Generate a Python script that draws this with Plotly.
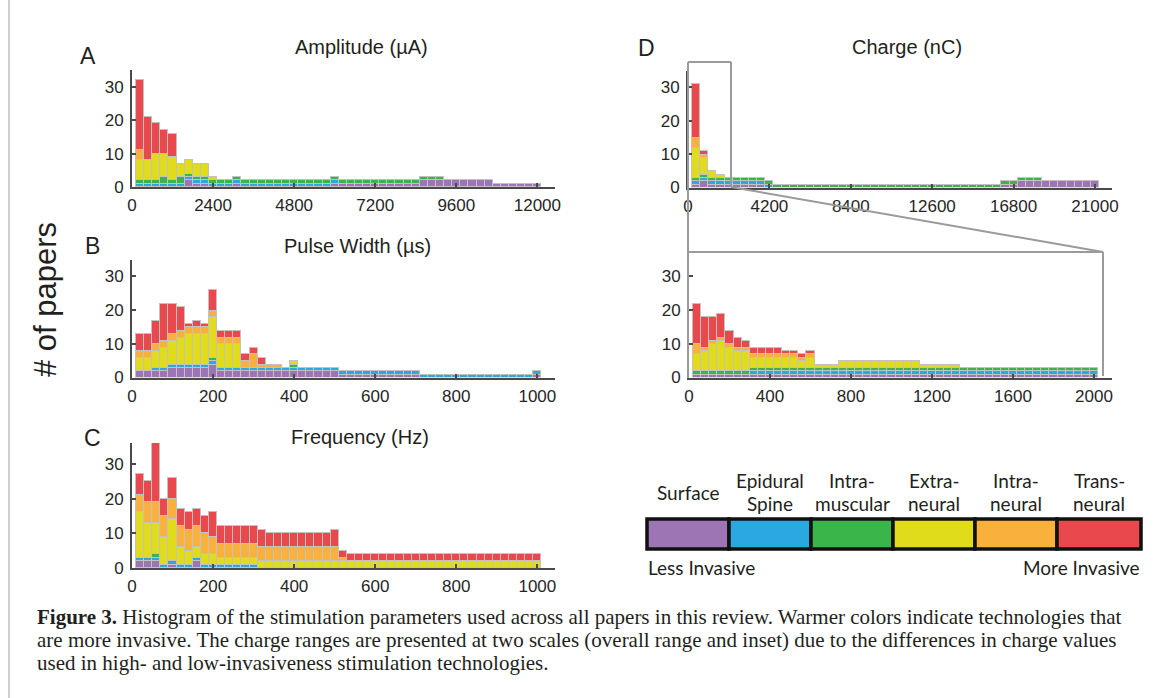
import plotly.graph_objects as go

# ---------------- data (counts of papers per bin, stacked by technology) ----------------
CATEGORIES = ["Surface", "Epidural Spine", "Intramuscular", "Extraneural", "Intraneural", "Transneural"]
COLORS = ["#9D74B4", "#2AA9E1", "#3AB54A", "#E1DC1B", "#FAB03C", "#E9484C"]

# Amplitude (uA), bin width 240
AMP_BIN = 240
AMP_SURFACE = [0,0,0,0,0,0,2,1,1,0, 0,0,1,0,0,0,0,0,0,0, 0,0,0,0,1,1,1,1,1,1, 1,1,1,1,1,2,2,2,2,2, 2,2,2,2,1,1,1,1,1,1]
AMP_EPIDURAL = [1,1,1,1,1,1,1,1,1,1, 1,1,1,1,1,1,1,1,1,1, 1,1,1,1,1,0,0,0,0,0, 0,0,0,0,0,0,0,0,0,0, 0,0,0,0,0,0,0,0,0,0]
AMP_INTRAMUSC = [1,1,1,2,1,2,1,1,1,1, 1,1,1,1,1,1,1,1,1,1, 1,1,1,1,1,1,1,1,1,1, 1,1,1,1,1,1,1,1,0,0, 0,0,0,0,0,0,0,0,0,0]
AMP_EXTRANEURAL = [6,6,8,7,7,4,4,4,4,1, 0,0,0,0,0,0,0,0,0,0, 0,0,0,0,0,0,0,0,0,0, 0,0,0,0,0,0,0,0,0,0, 0,0,0,0,0,0,0,0,0,0]
AMP_INTRANEURAL = [3,0,0,0,0,0,0,0,0,0, 0,0,0,0,0,0,0,0,0,0, 0,0,0,0,0,0,0,0,0,0, 0,0,0,0,0,0,0,0,0,0, 0,0,0,0,0,0,0,0,0,0]
AMP_TRANSNEURAL = [21,13,9,7,7,0,0,0,0,0, 0,0,0,0,0,0,0,0,0,0, 0,0,0,0,0,0,0,0,0,0, 0,0,0,0,0,0,0,0,0,0, 0,0,0,0,0,0,0,0,0,0]
AMP_TICKS = [0, 2400, 4800, 7200, 9600, 12000]

# Pulse width (us), bin width 20
PW_BIN = 20
PW_SURFACE = [2,2,2,2,3,3,3,3,3,4, 2,2,2,2,2,2,2,2,2,2, 2,2,2,2,2,1,1,1,1,1, 1,1,1,1,1,0,0,0,0,0, 0,0,0,0,0,0,0,0,0,1]
PW_EPIDURAL = [0,0,1,1,1,1,1,1,1,1, 1,1,1,1,1,1,1,1,1,1, 1,1,1,1,1,1,1,1,1,1, 1,1,1,1,1,1,1,1,1,1, 1,1,1,1,1,1,1,1,1,1]
PW_INTRAMUSC = [0,0,0,0,0,0,0,0,0,1, 0,0,0,0,0,0,0,0,0,1, 0,0,0,0,0,0,0,0,0,0, 0,0,0,0,0,0,0,0,0,0, 0,0,0,0,0,0,0,0,0,0]
PW_EXTRANEURAL = [4,4,5,6,7,8,9,9,9,12, 7,7,7,0,0,0,0,0,0,1, 0,0,0,0,0,0,0,0,0,0, 0,0,0,0,0,0,0,0,0,0, 0,0,0,0,0,0,0,0,0,0]
PW_INTRANEURAL = [2,2,2,2,2,2,2,2,2,2, 2,2,2,2,4,1,1,1,0,0, 0,0,0,0,0,0,0,0,0,0, 0,0,0,0,0,0,0,0,0,0, 0,0,0,0,0,0,0,0,0,0]
PW_TRANSNEURAL = [5,5,7,11,9,7,1,2,1,6, 2,2,2,2,2,2,0,0,0,0, 0,0,0,0,0,0,0,0,0,0, 0,0,0,0,0,0,0,0,0,0, 0,0,0,0,0,0,0,0,0,0]
PW_TICKS = [0, 200, 400, 600, 800, 1000]

# Frequency (Hz), bin width 20
FREQ_BIN = 20
FREQ_SURFACE = [2,2,2,0,1,0,0,2,0,0, 0,0,0,0,0,0,0,0,0,0, 0,0,0,0,0,0,0,0,0,0, 0,0,0,0,0,0,0,0,0,0, 0,0,0,0,0,0,0,0,0,0]
FREQ_EPIDURAL = [1,1,1,1,1,1,1,1,1,1, 1,1,1,1,1,0,0,0,0,0, 0,0,0,0,0,0,0,0,0,0, 0,0,0,0,0,0,0,0,0,0, 0,0,0,0,0,0,0,0,0,0]
FREQ_INTRAMUSC = [0,0,1,0,0,0,0,0,0,0, 0,0,0,0,0,0,0,0,0,0, 0,0,0,0,0,0,0,0,0,0, 0,0,0,0,0,0,0,0,0,0, 0,0,0,0,0,0,0,0,0,0]
FREQ_EXTRANEURAL = [13,10,9,8,12,5,4,3,3,3, 2,2,2,2,2,2,2,2,2,2, 2,2,2,2,2,2,2,2,2,2, 2,2,2,2,2,2,2,2,2,2, 2,2,2,2,2,2,2,2,2,2]
FREQ_INTRANEURAL = [5,6,6,6,6,6,6,6,6,5, 4,4,4,4,4,4,4,4,4,4, 4,4,4,4,4,1,0,0,0,0, 0,0,0,0,0,0,0,0,0,0, 0,0,0,0,0,0,0,0,0,0]
FREQ_TRANSNEURAL = [6,6,17,5,6,5,5,5,5,7, 5,5,5,5,5,5,4,4,4,4, 4,4,4,4,5,2,2,2,2,2, 2,2,2,2,2,2,2,2,2,2, 2,2,2,2,2,2,2,2,2,2]
FREQ_TICKS = [0, 200, 400, 600, 800, 1000]

# Charge (nC), overall range, bin width 420
CHG_BIN = 420
CHG_SURFACE = [1,2,1,1,1,1,1,1,1,0, 0,0,0,0,0,0,0,0,0,0, 0,0,0,0,0,0,0,0,0,0, 0,0,0,0,0,0,0,0,1,1, 2,2,2,2,2,2,2,2,2,2]
CHG_EPIDURAL = [1,1,1,1,1,1,1,1,1,1, 0,0,0,0,0,0,0,0,0,0, 0,0,0,0,0,0,0,0,0,0, 0,0,0,0,0,0,0,0,0,0, 0,0,0,0,0,0,0,0,0,0]
CHG_INTRAMUSC = [1,1,1,1,1,1,1,1,1,1, 1,1,1,1,1,1,1,1,1,1, 1,1,1,1,1,1,1,1,1,1, 1,1,1,1,1,1,1,1,1,1, 1,1,1,0,0,0,0,0,0,0]
CHG_EXTRANEURAL = [9,5,2,1,0,0,0,0,0,0, 0,0,0,0,0,0,0,0,0,0, 0,0,0,0,0,0,0,0,0,0, 0,0,0,0,0,0,0,0,0,0, 0,0,0,0,0,0,0,0,0,0]
CHG_INTRANEURAL = [3,1,0,0,0,0,0,0,0,0, 0,0,0,0,0,0,0,0,0,0, 0,0,0,0,0,0,0,0,0,0, 0,0,0,0,0,0,0,0,0,0, 0,0,0,0,0,0,0,0,0,0]
CHG_TRANSNEURAL = [16,1,0,0,0,0,0,0,0,0, 0,0,0,0,0,0,0,0,0,0, 0,0,0,0,0,0,0,0,0,0, 0,0,0,0,0,0,0,0,0,0, 0,0,0,0,0,0,0,0,0,0]
CHG_TICKS = [0, 4200, 8400, 12600, 16800, 21000]

# Charge (nC), inset 0-2000, bin width 40
INS_BIN = 40
INS_SURFACE = [1,1,1,1,1,1,1,1,1,1, 1,1,1,1,1,1,1,1,1,1, 1,1,1,1,1,1,1,1,1,1, 1,1,1,1,1,1,1,1,1,1, 1,1,1,1,1,1,1,1,1,1]
INS_EPIDURAL = [0,0,0,0,0,0,0,1,1,1, 1,1,1,1,1,1,1,1,1,1, 1,1,1,1,1,1,1,1,1,1, 1,1,1,1,1,1,1,1,1,1, 1,1,1,1,1,1,1,1,1,1]
INS_INTRAMUSC = [1,1,1,1,1,1,1,1,1,1, 1,1,1,1,1,1,1,1,1,1, 1,1,1,1,1,1,1,1,1,1, 1,1,1,1,1,1,1,1,1,1, 1,1,1,1,1,1,1,1,1,1]
INS_EXTRANEURAL = [5,6,8,9,7,6,6,3,3,3, 3,3,3,2,3,1,1,1,2,2, 2,2,2,2,2,2,2,2,1,1, 1,1,1,0,0,0,0,0,0,0, 0,0,0,0,0,0,0,0,0,0]
INS_INTRANEURAL = [3,1,1,1,1,1,1,1,1,1, 1,1,1,1,1,0,0,0,0,0, 0,0,0,0,0,0,0,0,0,0, 0,0,0,0,0,0,0,0,0,0, 0,0,0,0,0,0,0,0,0,0]
INS_TRANSNEURAL = [12,9,7,7,4,3,2,2,2,2, 2,1,1,1,1,0,0,0,0,0, 0,0,0,0,0,0,0,0,0,0, 0,0,0,0,0,0,0,0,0,0, 0,0,0,0,0,0,0,0,0,0]
INS_TICKS = [0, 400, 800, 1200, 1600, 2000]

Y_TICKS = [0, 10, 20, 30]

# ---------------- layout helpers (positions given in pixels of the 1153x698 reference) ----------------
W, H = 1153, 698
def px(x):
    return x / W
def py(y):
    return 1 - y / H

AX_COLOR = "#4A4A4A"
TXT = "#231F20"
SANS = "Liberation Sans, Arial, sans-serif"

panels = [
    # (axis suffix, bin, series, ticks, x domain px, y domain px (bottom, top), xmax, ymax)
    ("", AMP_BIN, [AMP_SURFACE, AMP_EPIDURAL, AMP_INTRAMUSC, AMP_EXTRANEURAL, AMP_INTRANEURAL, AMP_TRANSNEURAL],
     AMP_TICKS, (132, 555), (187, 70), 12000 * 1.0435, 35),
    ("2", PW_BIN, [PW_SURFACE, PW_EPIDURAL, PW_INTRAMUSC, PW_EXTRANEURAL, PW_INTRANEURAL, PW_TRANSNEURAL],
     PW_TICKS, (132, 555), (377.5, 259.5), 1000 * 1.0435, 35),
    ("3", FREQ_BIN, [FREQ_SURFACE, FREQ_EPIDURAL, FREQ_INTRAMUSC, FREQ_EXTRANEURAL, FREQ_INTRANEURAL, FREQ_TRANSNEURAL],
     FREQ_TICKS, (132, 555), (568, 443), 1000 * 1.0435, 36),
    ("4", CHG_BIN, [CHG_SURFACE, CHG_EPIDURAL, CHG_INTRAMUSC, CHG_EXTRANEURAL, CHG_INTRANEURAL, CHG_TRANSNEURAL],
     CHG_TICKS, (688, 1112), (187.5, 70.5), 21000 * 1.0418, 35),
    ("5", INS_BIN, [INS_SURFACE, INS_EPIDURAL, INS_INTRAMUSC, INS_EXTRANEURAL, INS_INTRANEURAL, INS_TRANSNEURAL],
     INS_TICKS, (689, 1112), (377.5, 259.5), 2000 * 1.0445, 35),
]

fig = go.Figure()
layout_axes = {}
for suffix, bw, series, ticks, (x0, x1), (yb, yt), xmax, ymax in panels:
    centers = [bw * (k + 1) for k in range(len(series[0]))]
    for name, color, vals in zip(CATEGORIES, COLORS, series):
        fig.add_trace(go.Bar(
            x=centers,
            y=[v if v else None for v in vals],
            width=bw,
            name=name,
            marker=dict(color=color, line=dict(color="#C2C2C2", width=1)),
            xaxis="x" + suffix, yaxis="y" + suffix,
            showlegend=False, hoverinfo="skip",
        ))
    common = dict(showline=True, linecolor=AX_COLOR, linewidth=2, showgrid=False, zeroline=False,
                  ticks="inside", ticklen=4, tickwidth=1.5, tickcolor=AX_COLOR,
                  tickfont=dict(family=SANS, size=17, color="#262626"))
    layout_axes["xaxis" + suffix] = dict(common, domain=[px(x0), px(x1)], range=[0, xmax],
                                          tickvals=ticks, ticktext=[str(t) for t in ticks],
                                          anchor="y" + suffix, ticklabelstandoff=2)
    layout_axes["yaxis" + suffix] = dict(common, domain=[py(yb), py(yt)], range=[0, ymax],
                                          tickvals=Y_TICKS, ticktext=[str(t) for t in Y_TICKS],
                                          anchor="x" + suffix, ticklabelstandoff=3)

fig.update_layout(**layout_axes)

# ---------------- annotations ----------------
ann = []
def text(x, y, s, size, family=SANS, xanchor="center", angle=0, color=TXT):
    ann.append(dict(x=px(x), y=py(y), xref="paper", yref="paper", text=s, showarrow=False,
                    xanchor=xanchor, yanchor="middle", textangle=angle, borderpad=0,
                    font=dict(family=family, size=size, color=color)))

text(361, 47, "Amplitude (µA)", 20)
text(357, 246, "Pulse Width (µs)", 20)
text(360, 437, "Frequency (Hz)", 20)
text(907, 47, "Charge (nC)", 20)
text(88, 56, "A", 23)
text(92, 246, "B", 23)
text(92, 438, "C", 23)
text(646, 48, "D", 23)
text(45, 300, "# of papers", 31, angle=-90)

LEG = "Lato, Liberation Sans, sans-serif"
cell_edges = [647, 729, 811, 893, 975, 1057, 1141]
cell_labels = [["Surface"], ["Epidural", "Spine"], ["Intra-", "muscular"], ["Extra-", "neural"],
               ["Intra-", "neural"], ["Trans-", "neural"]]
for i, lines in enumerate(cell_labels):
    cx = (cell_edges[i] + cell_edges[i + 1]) / 2
    if len(lines) == 1:
        text(cx, 492, lines[0], 19, family=LEG)
    else:
        text(cx, 481, lines[0], 19, family=LEG)
        text(cx, 503, lines[1], 19, family=LEG)
text(647, 567, "Less Invasive", 19, family=LEG, xanchor="left")
text(1141, 567, "More Invasive", 19, family=LEG, xanchor="right")

SERIF = "Liberation Serif, Times New Roman, serif"
caption = [
    "<b>Figure 3.</b> Histogram of the stimulation parameters used across all papers in this review. Warmer colors indicate technologies that",
    "are more invasive. The charge ranges are presented at two scales (overall range and inset) due to the differences in charge values",
    "used in high- and low-invasiveness stimulation technologies.",
]
for i, line in enumerate(caption):
    text(36, 617 + 23 * i, line, 21, family=SERIF, xanchor="left")

# ---------------- shapes ----------------
shapes = []
GRAY = "#9A9A9A"
def line(x0, y0, x1, y1, color=GRAY, width=2):
    shapes.append(dict(type="line", xref="paper", yref="paper", x0=px(x0), y0=py(y0), x1=px(x1), y1=py(y1),
                       line=dict(color=color, width=width), layer="above"))

# zoom box on the overall charge histogram and connector to the inset
line(688, 62, 731, 62)
line(731, 62, 731, 187)
line(688, 62, 688, 378)
line(731, 187, 1103, 252)
line(688, 252, 1103, 252)
line(1103, 252, 1103, 376)

# colour key
for i in range(6):
    shapes.append(dict(type="rect", xref="paper", yref="paper",
                       x0=px(cell_edges[i]), x1=px(cell_edges[i + 1]), y0=py(549), y1=py(519),
                       fillcolor=COLORS[i], line=dict(color="#111111", width=3.5), layer="above"))

# frame line at left
line(9, 0, 9, 698, color="#CFCFCF", width=2)

# figure fills the browser window (1153x698), so paper fractions map onto the window exactly
fig.update_layout(
    autosize=True, margin=dict(l=0, r=0, t=0, b=0, autoexpand=False),
    paper_bgcolor="white", plot_bgcolor="rgba(0,0,0,0)",
    barmode="stack", bargap=0,
    annotations=ann, shapes=shapes,
)

POST = ("var gd=document.getElementById('{plot_id}');"
        "document.documentElement.style.cssText='margin:0;padding:0;overflow:hidden;';"
        "document.body.style.cssText='margin:0;padding:0;overflow:hidden;';"
        "gd.style.position='fixed';gd.style.left='0px';gd.style.top='0px';"
        "gd.style.width='100vw';gd.style.height='100vh';"
        "Plotly.Plots.resize(gd);")
fig.write_html("out.html", default_width="100vw", default_height="100vh",
               config={"responsive": True, "displayModeBar": False}, post_script=POST)
